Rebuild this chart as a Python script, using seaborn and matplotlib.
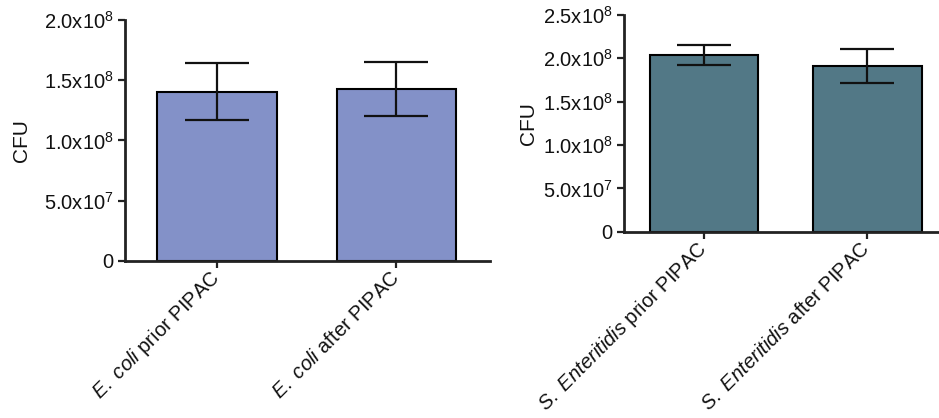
import numpy as np
import matplotlib
matplotlib.use("Agg")
import matplotlib.pyplot as plt
import seaborn as sns

# data
ecoli_labels = [r"$\mathit{E.\ coli}$ prior PIPAC", r"$\mathit{E.\ coli}$ after PIPAC"]
ecoli_mean = [1.405e8, 1.425e8]
ecoli_sd = [0.238e8, 0.225e8]

salm_labels = [r"$\mathit{S.\ Enteritidis}$ prior PIPAC", r"$\mathit{S.\ Enteritidis}$ after PIPAC"]
salm_mean = [2.038e8, 1.911e8]
salm_sd = [0.12e8, 0.20e8]

ecoli_ticks = [0, 5e7, 1e8, 1.5e8, 2e8]
ecoli_ticklabels = ["0", r"5.0x10$^{7}$", r"1.0x10$^{8}$", r"1.5x10$^{8}$", r"2.0x10$^{8}$"]
salm_ticks = [0, 5e7, 1e8, 1.5e8, 2e8, 2.5e8]
salm_ticklabels = ["0", r"5.0x10$^{7}$", r"1.0x10$^{8}$", r"1.5x10$^{8}$", r"2.0x10$^{8}$", r"2.5x10$^{8}$"]

sns.set_style("ticks")
plt.rcParams["font.family"] = ["Liberation Sans", "DejaVu Sans"]
plt.rcParams["mathtext.fontset"] = "custom"
plt.rcParams["mathtext.rm"] = "Liberation Sans"
plt.rcParams["mathtext.it"] = "Liberation Sans:italic"
plt.rcParams["mathtext.bf"] = "Liberation Sans:bold"
plt.rcParams["text.color"] = "#111111"
plt.rcParams["axes.labelcolor"] = "#111111"
plt.rcParams["xtick.labelcolor"] = "#111111"
plt.rcParams["ytick.labelcolor"] = "#111111"

fig = plt.figure(figsize=(9.39, 4.18), dpi=100)
ax1 = fig.add_axes([0.1331, 0.3756, 0.3887, 0.5766])
ax2 = fig.add_axes([0.6645, 0.4457, 0.3355, 0.5184])


def draw_panel(ax, labels, means, sds, color, ticks, ticklabels, xlim, capsize, label_x):
    sns.barplot(x=labels, y=means, ax=ax, color=color, edgecolor="black",
                linewidth=1.5, width=0.667, errorbar=None, saturation=1)
    ax.errorbar(x=np.arange(len(means)), y=means, yerr=sds, fmt="none",
                ecolor="#111111", elinewidth=1.6, capsize=capsize, capthick=1.6)
    ax.set_xlim(*xlim)
    ax.set_ylim(0, ticks[-1])
    ax.set_yticks(ticks)
    ax.set_yticklabels(ticklabels, fontsize=14.5)
    ax.set_ylabel("CFU", fontsize=15)
    ax.yaxis.set_label_coords(label_x, 0.5)
    ax.set_xticks(np.arange(len(labels)))
    ax.set_xticklabels(labels, rotation=45, ha="right", va="center",
                       rotation_mode="anchor", fontsize=14.5)
    ax.tick_params(axis="both", direction="out", length=5, width=1.6, color="#222222", pad=3)
    ax.tick_params(axis="x", pad=5)
    sns.despine(ax=ax)
    for side in ["left", "bottom"]:
        ax.spines[side].set_linewidth(2)
        ax.spines[side].set_color("#222222")


draw_panel(ax1, ecoli_labels, ecoli_mean, ecoli_sd, "#8391C8",
           ecoli_ticks, ecoli_ticklabels, (-0.51, 1.52), 23, -0.258)
draw_panel(ax2, salm_labels, salm_mean, salm_sd, "#527886",
           salm_ticks, salm_ticklabels, (-0.49, 1.44), 19.5, -0.272)

fig.savefig("out.png", dpi=100)
